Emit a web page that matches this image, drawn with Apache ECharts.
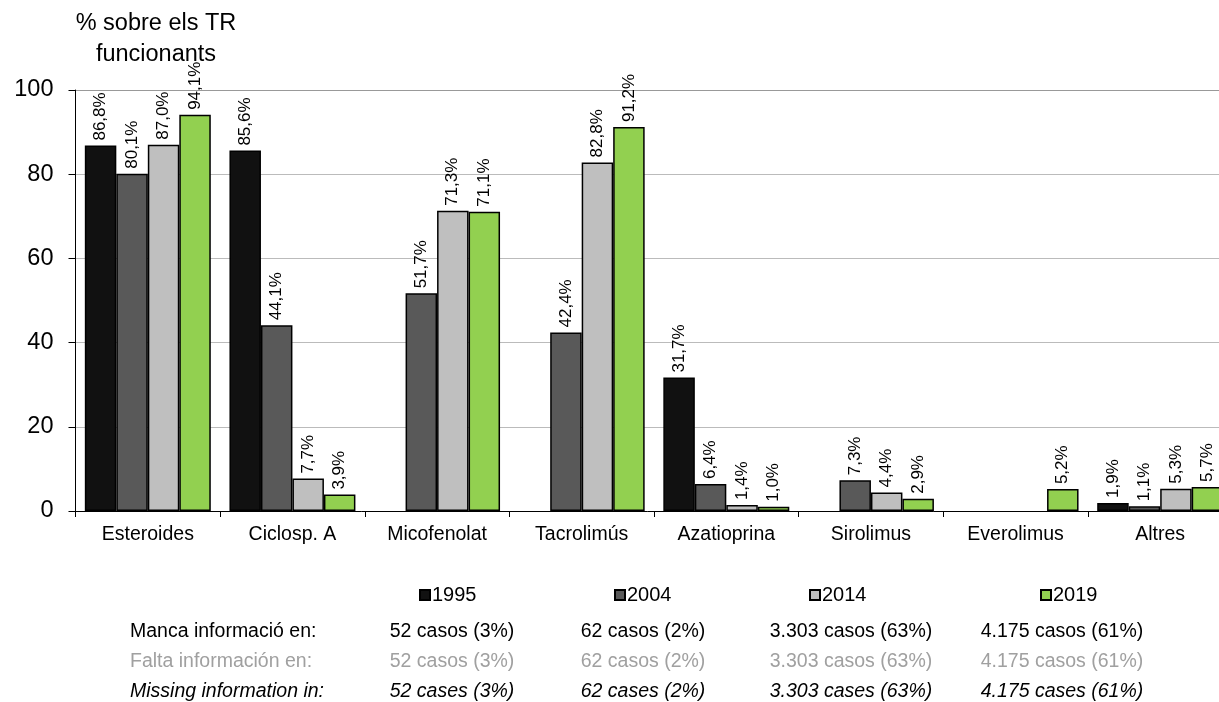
<!DOCTYPE html>
<html>
<head>
<meta charset="utf-8">
<script src="https://cdn.jsdelivr.net/npm/echarts@6/dist/echarts.min.js"></script>
<style>
html,body{margin:0;padding:0;background:#fff;}
#chart{width:1219px;height:702px;}
</style>
</head>
<body>
<div id="chart"></div>
<script>
var categories = ['Esteroides', 'Ciclosp. A', 'Micofenolat', 'Tacrolimús', 'Azatioprina', 'Sirolimus', 'Everolimus', 'Altres'];
var seriesNames = ['1995', '2004', '2014', '2019'];
var v1995 = [86.8, 85.6, null, null, 31.7, null, null, 1.9];
var v2004 = [80.1, 44.1, 51.7, 42.4, 6.4, 7.3, null, 1.1];
var v2014 = [87.0, 7.7, 71.3, 82.8, 1.4, 4.4, null, 5.3];
var v2019 = [94.1, 3.9, 71.1, 91.2, 1.0, 2.9, 5.2, 5.7];
var yTitle = '% sobre els TR\nfuncionants';
var rowLabels = ['Manca informació en:', 'Falta información en:', 'Missing information in:'];
var rowCa = ['52 casos (3%)', '62 casos (2%)', '3.303 casos (63%)', '4.175 casos (61%)'];
var rowEs = ['52 casos (3%)', '62 casos (2%)', '3.303 casos (63%)', '4.175 casos (61%)'];
var rowEn = ['52 cases (3%)', '62 cases (2%)', '3.303 cases (63%)', '4.175 cases (61%)'];

var FONT = '"Liberation Sans", Arial, sans-serif';
var colors = ['#111111', '#595959', '#bfbfbf', '#92d050'];
var allValues = [v1995, v2004, v2014, v2019];

var chart = echarts.init(document.getElementById('chart'));

var series = seriesNames.map(function (name, i) {
  return {
    name: name,
    type: 'bar',
    data: allValues[i],
    barGap: '0%',
    barCategoryGap: '12.9%',
    itemStyle: { color: colors[i], borderColor: '#000', borderWidth: 1.5 },
    label: {
      show: true,
      position: 'top',
      rotate: 90,
      align: 'left',
      verticalAlign: 'middle',
      distance: 5,
      fontSize: 17,
      fontFamily: FONT,
      color: '#000',
      formatter: function (p) { return p.value == null ? '' : p.value.toFixed(1).replace('.', ',') + '%'; }
    }
  };
});

var legendLefts = [419, 614, 809, 1040];
var legends = seriesNames.map(function (name, i) {
  return {
    data: [name],
    left: legendLefts[i],
    top: 585,
    padding: 0,
    icon: 'rect',
    itemWidth: 10,
    itemHeight: 10,
    selectedMode: false,
    textStyle: { fontSize: 20, fontFamily: FONT, color: '#000', padding: [0, 0, 0, -3] }
  };
});

var graphics = [];
graphics.push({
  type: 'text', x: 156, y: 8,
  style: { text: yTitle, textAlign: 'center', font: '23.5px ' + FONT, lineHeight: 31, fill: '#000' }
});
var rowYs = [632, 662, 692];
var rowColors = ['#000', '#a0a0a0', '#000'];
var rowStyles = ['normal', 'normal', 'italic'];
var colXs = [452, 643, 851, 1062];
var rows = [rowCa, rowEs, rowEn];
for (var r = 0; r < 3; r++) {
  graphics.push({
    type: 'text', x: 130, y: rowYs[r],
    style: { text: rowLabels[r], textAlign: 'left', textVerticalAlign: 'middle', font: rowStyles[r] + ' 19.5px ' + FONT, fill: rowColors[r] }
  });
  for (var c = 0; c < 4; c++) {
    graphics.push({
      type: 'text', x: colXs[c], y: rowYs[r],
      style: { text: rows[r][c], textAlign: 'center', textVerticalAlign: 'middle', font: rowStyles[r] + ' 19.5px ' + FONT, fill: rowColors[r] }
    });
  }
}

chart.setOption({
  animation: false,
  backgroundColor: '#fff',
  grid: { left: 75.5, top: 90, width: 1157, height: 421, outerBoundsMode: 'none', containLabel: false },
  legend: legends,
  xAxis: {
    type: 'category',
    data: categories,
    axisLine: { lineStyle: { color: '#000', width: 1 } },
    axisTick: { show: true, length: 6, lineStyle: { color: '#000' } },
    axisLabel: { fontSize: 19.5, fontFamily: FONT, color: '#000', margin: 14 }
  },
  yAxis: {
    type: 'value',
    min: 0, max: 100, interval: 20,
    axisLine: { show: true, lineStyle: { color: '#000', width: 1 } },
    axisTick: { show: true, length: 7, lineStyle: { color: '#000' } },
    axisLabel: { fontSize: 23.5, fontFamily: FONT, color: '#000', margin: 22 },
    splitLine: { show: true, lineStyle: { color: ['#777', '#777', '#777', '#777', '#777', '#333'], type: [1, 1], width: 1 } }
  },
  series: series,
  graphic: graphics
});
</script>
</body>
</html>
